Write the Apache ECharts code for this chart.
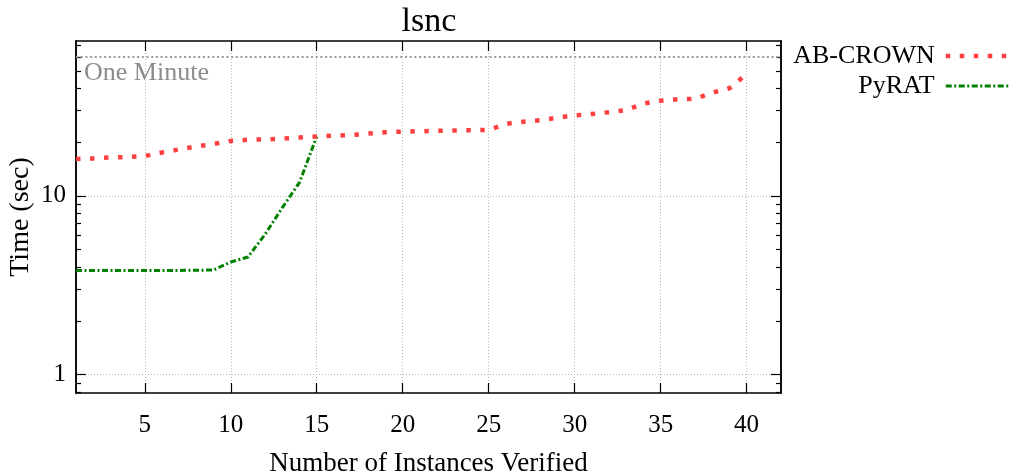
<!DOCTYPE html>
<html>
<head>
<meta charset="utf-8">
<script src="https://cdn.jsdelivr.net/npm/echarts@6/dist/echarts.min.js"></script>
<style>html,body{margin:0;padding:0;background:#fff;}#c{width:1016px;height:472px;}</style>
</head>
<body>
<div id="c"></div>
<script>
const title = 'lsnc';
const xName = 'Number of Instances Verified';
const yName = 'Time (sec)';
const xMin = 1, xMax = 42;
const yMin = 0.79, yMax = 73.5;
const xTicks = [5, 10, 15, 20, 25, 30, 35, 40];
const yMajorTicks = [1, 10];
const yMinorTicks = [0.8, 0.9, 2, 3, 4, 5, 6, 7, 8, 9, 20, 30, 40, 50, 60, 70];
const oneMinute = 60;
const oneMinuteLabel = 'One Minute';

const abName = 'AB-CROWN';
const abX = [1,2,3,4,5,6,7,8,9,10,11,12,13,14,15,16,17,18,19,20,21,22,23,24,25,26,27,28,29,30,31,32,33,34,35,36,37,38,39,40];
const abY = [16.1,16.2,16.4,16.5,16.7,17.5,18.2,18.9,19.5,20.3,20.6,20.7,20.9,21.2,21.5,21.7,21.9,22.3,22.7,22.9,23.0,23.1,23.2,23.3,23.4,25.3,26.0,26.5,27.4,28.2,28.7,29.4,30.2,32.8,34.1,34.7,34.9,37.8,40.0,48.0];

const pyName = 'PyRAT';
const pyX = [1,2,3,4,5,6,7,8,9,10,11,12,13,14,15];
const pyY = [3.82,3.82,3.82,3.82,3.83,3.83,3.83,3.84,3.85,4.27,4.55,6.1,8.6,11.9,21.5];

const FONT = "'Liberation Serif', 'DejaVu Serif', serif";
const AB_COLOR = '#ff4040';
const PY_COLOR = '#008000';
const abLine = { color: AB_COLOR, width: 4.5, type: [4.5, 9.5], cap: 'butt' };
const pyLine = { color: PY_COLOR, width: 3, type: [6, 2.5, 2, 2.5], cap: 'butt' };
const gridLine = { show: true, lineStyle: { color: '#b8b8b8', width: 1, type: [1, 2] } };
const borderLine = { show: true, lineStyle: { color: '#000', width: 1.5 } };

function yAxis(pos, ticks, len, withLabel) {
  return {
    type: 'log', logBase: 10, min: yMin, max: yMax, position: pos, offset: 0,
    axisLine: borderLine,
    axisTick: { show: true, inside: true, length: len, customValues: ticks, lineStyle: { color: '#000', width: 1.2 } },
    axisLabel: withLabel ? { show: true, customValues: yMajorTicks, fontSize: 25, fontFamily: FONT, color: '#000', margin: 10 } : { show: false },
    splitLine: withLabel ? gridLine : { show: false },
    minorTick: { show: false },
    name: withLabel ? yName : '',
    nameLocation: 'middle', nameGap: 41, nameMoveOverlap: false,
    nameTextStyle: { fontSize: 28, fontFamily: FONT, color: '#000' }
  };
}

const chart = echarts.init(document.getElementById('c'), null, { renderer: 'canvas' });
chart.setOption({
  animation: false,
  backgroundColor: '#fff',
  title: {
    text: title, left: 424, top: 0, textAlign: 'center',
    textStyle: { fontSize: 34, fontWeight: 'normal', fontFamily: FONT, color: '#000' }
  },
  grid: { left: 76, right: 235, top: 41, bottom: 79, containLabel: false, outerBoundsMode: 'none' },
  legend: {
    orient: 'vertical', right: 4, top: 43, align: 'right', padding: 0,
    itemWidth: 64, itemHeight: 8, itemGap: 4,
    itemStyle: { color: 'rgba(0,0,0,0)', borderWidth: 0, opacity: 0 },
    textStyle: { fontSize: 26, fontFamily: FONT, color: '#000', padding: [0, 6, 0, 0] },
    data: [
      { name: abName, lineStyle: abLine },
      { name: pyName, lineStyle: pyLine }
    ]
  },
  xAxis: [
    {
      type: 'value', min: xMin, max: xMax, position: 'bottom',
      axisLine: borderLine,
      axisTick: { show: true, inside: true, length: 10, customValues: xTicks, lineStyle: { color: '#000', width: 1.2 } },
      axisLabel: { show: true, customValues: xTicks, fontSize: 25, fontFamily: FONT, color: '#000', margin: 20 },
      splitLine: gridLine,
      name: xName, nameLocation: 'middle', nameGap: 57, nameMoveOverlap: false,
      nameTextStyle: { fontSize: 27, fontFamily: FONT, color: '#000' }
    },
    {
      type: 'value', min: xMin, max: xMax, position: 'top',
      axisLine: borderLine,
      axisTick: { show: true, inside: true, length: 10, customValues: xTicks, lineStyle: { color: '#000', width: 1.2 } },
      axisLabel: { show: false },
      splitLine: { show: false }
    }
  ],
  yAxis: [
    yAxis('left', yMajorTicks, 10, true),
    yAxis('left', yMinorTicks, 5, false),
    yAxis('right', yMajorTicks, 10, false),
    yAxis('right', yMinorTicks, 5, false)
  ],
  series: [
    {
      name: abName, type: 'line', xAxisIndex: 0, yAxisIndex: 0,
      data: abX.map((x, i) => [x, abY[i]]),
      symbol: 'none', showSymbol: false,
      lineStyle: abLine,
      itemStyle: { color: AB_COLOR },
      z: 3,
      markLine: {
        silent: true, symbol: ['none', 'none'],
        lineStyle: { color: '#999', width: 2, type: [2, 2.7] },
        label: { show: true, position: 'insideStartBottom', formatter: oneMinuteLabel, fontSize: 26, fontFamily: FONT, color: '#8c8c8c', distance: [8, 3] },
        data: [{ yAxis: oneMinute }]
      }
    },
    {
      name: pyName, type: 'line', xAxisIndex: 0, yAxisIndex: 0,
      data: pyX.map((x, i) => [x, pyY[i]]),
      symbol: 'none', showSymbol: false,
      lineStyle: pyLine,
      itemStyle: { color: PY_COLOR },
      z: 2
    }
  ]
});
</script>
</body>
</html>
